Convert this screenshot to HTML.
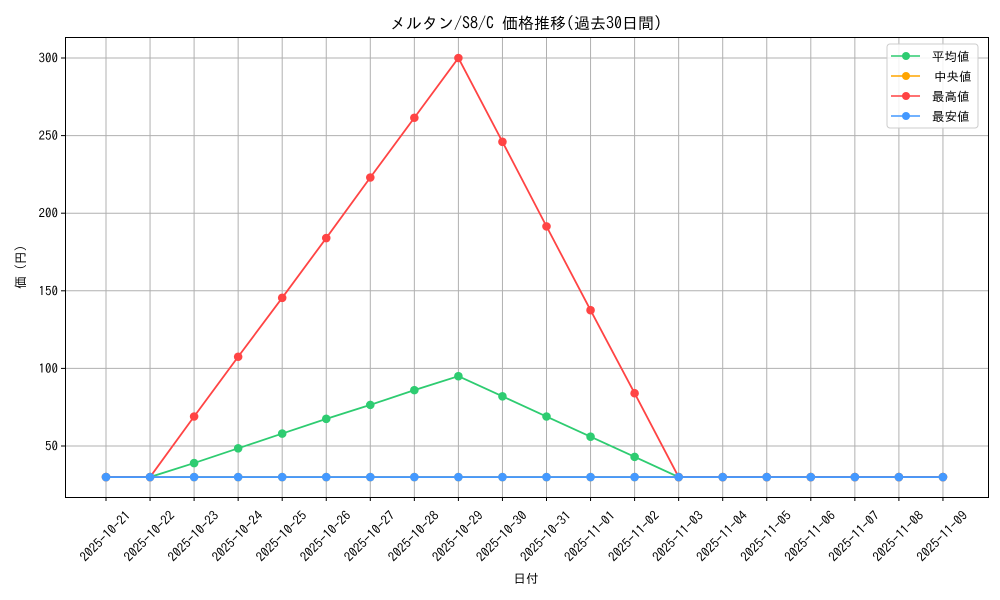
<!DOCTYPE html>
<html><head><meta charset="utf-8"><style>body{margin:0;background:#fff}svg{display:block}text{font-family:"IPAGothic","Noto Sans CJK JP",sans-serif;fill:#000}</style></head>
<body>
<svg id="c" width="1000" height="600" viewBox="0 0 1000 600" xmlns="http://www.w3.org/2000/svg">
<text x="526" y="29" font-size="16" text-anchor="middle">メルタン/S8/C 価格推移(過去30日間)</text>
<text x="526" y="583" font-size="12.5" text-anchor="middle">日付</text>
<text transform="translate(25,267) rotate(-90)" font-size="12.5" text-anchor="middle">価 (円)</text>
<g id="g"></g>
<rect x="65.5" y="37.5" width="923" height="460" fill="none" stroke="#000" stroke-width="1"/>
<g>
<rect x="887" y="44" width="91" height="84" rx="3" fill="#fff" fill-opacity="0.85" stroke="#ccc"/>
<line x1="891" y1="56" x2="920" y2="56" stroke="#2ecc71" stroke-width="1.5"/><circle cx="906" cy="56" r="4" fill="#2ecc71"/><text x="932" y="61" font-size="12.5">平均値</text>
<line x1="891" y1="76" x2="920" y2="76" stroke="#ffa500" stroke-width="1.5"/><circle cx="906" cy="76" r="4" fill="#ffa500"/><text x="934" y="81" font-size="12.5">中央値</text>
<line x1="891" y1="96" x2="920" y2="96" stroke="#ff4444" stroke-width="1.5"/><circle cx="906" cy="96" r="4" fill="#ff4444"/><text x="932" y="101" font-size="12.5">最高値</text>
<line x1="891" y1="116" x2="920" y2="116" stroke="#4499ff" stroke-width="1.5"/><circle cx="906" cy="116" r="4" fill="#4499ff"/><text x="932" y="121" font-size="12.5">最安値</text>
</g>
</svg>
<script>
const g=document.getElementById('g'),NS='http://www.w3.org/2000/svg';
function el(t,a,txt){const e=document.createElementNS(NS,t);for(const k in a)e.setAttribute(k,a[k]);if(txt!=null)e.textContent=txt;g.appendChild(e);return e;}
const X=i=>106+i*44.05, Y=v=>446-(v-50)*1.552;
const dates=[];let d=new Date(Date.UTC(2025,9,21));for(let i=0;i<20;i++){dates.push(d.toISOString().slice(0,10));d=new Date(d.getTime()+864e5);}
for(let v=50;v<=300;v+=50){el('line',{x1:65,x2:988,y1:Y(v),y2:Y(v),stroke:'#b0b0b0','stroke-width':1});el('line',{x1:61,x2:65,y1:Y(v),y2:Y(v),stroke:'#000'});el('text',{x:58,y:Y(v)+4.5,'font-size':13,'text-anchor':'end'},v);}
dates.forEach((s,i)=>{const x=X(i);el('line',{x1:x,x2:x,y1:37,y2:497,stroke:'#b0b0b0','stroke-width':1});el('line',{x1:x,x2:x,y1:497,y2:501,stroke:'#000'});el('text',{transform:`translate(${x},${537}) rotate(-45)`,'font-size':13,'text-anchor':'middle','dominant-baseline':'middle'},s);});
const flat=Array(20).fill(30);
const avg=[30,30,39,48.5,58,67.5,76.5,86,95,82,69,56,43,30,30,30,30,30,30,30];
const mx=[30,30,69,107.5,145.5,184,223,261.5,300,246,191.5,137.5,84,30,30,30,30,30,30,30];
[[avg,'#2ecc71'],[flat,'#ffa500'],[mx,'#ff4444'],[flat,'#4499ff']].forEach(([a,c])=>{el('polyline',{points:a.map((v,i)=>X(i)+','+Y(v)).join(' '),fill:'none',stroke:c,'stroke-width':1.8});a.forEach((v,i)=>el('circle',{cx:X(i),cy:Y(v),r:4.3,fill:c}));});
</script>
</body></html>
